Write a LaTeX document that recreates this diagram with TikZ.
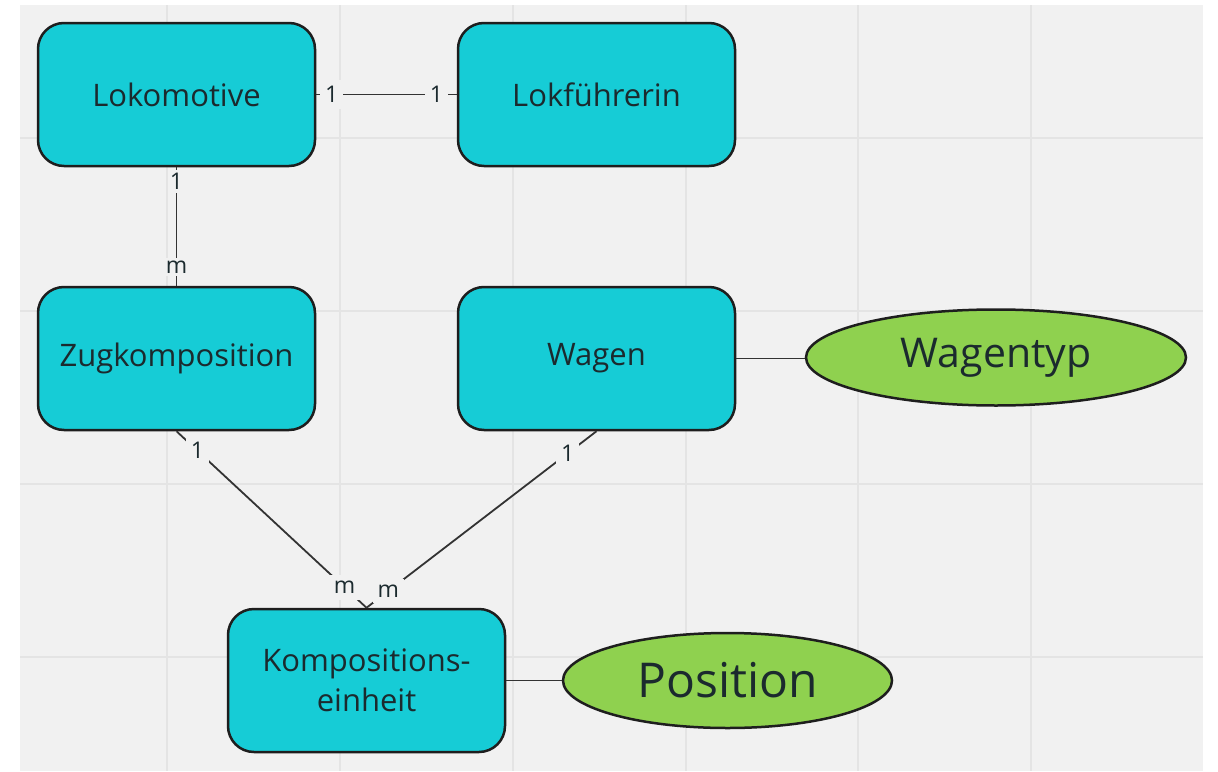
\documentclass[tikz,border=0pt]{standalone}
\usepackage{fontspec}
\setmainfont{Open Sans}
\usetikzlibrary{shapes.geometric}
\definecolor{canvas}{HTML}{F1F1F1}
\definecolor{gridline}{HTML}{E4E4E4}
\definecolor{entity}{HTML}{16CCD6}
\definecolor{attr}{HTML}{8FD14F}
\definecolor{outline}{HTML}{1E1E1E}
\definecolor{ink}{HTML}{1B2A2E}
\definecolor{wire}{HTML}{333333}
\tikzset{
  entitybox/.style={draw=outline, line width=2.5pt, fill=entity, rounded corners=26pt,
    minimum width=277pt, minimum height=143pt, inner sep=0pt, text=ink,
    font=\fontsize{31}{40}\selectfont, align=center},
  attrbox/.style={ellipse, draw=outline, line width=2.5pt, fill=attr, inner sep=0pt, text=ink},
  rel/.style={draw=wire, line width=1.8pt},
  card/.style={fill=canvas, inner xsep=5pt, inner ysep=6pt, text=ink,
    font=\fontsize{23}{23}\selectfont},
  slimcard/.style={card, inner xsep=1.5pt, inner ysep=3pt},
}
\begin{document}
\begin{tikzpicture}[x=1pt, y=-1pt]
  % page and canvas
  \fill[white] (0,0) rectangle (1218,771);
  \useasboundingbox (0,0) rectangle (1218,771);
  \fill[canvas] (20,5) rectangle (1203,771);
  % grid
  \foreach \gx in {167,340,513,686,858,1031}
    \draw[gridline, line width=2pt] (\gx,5) -- (\gx,771);
  \foreach \gy in {138,311,484,657}
    \draw[gridline, line width=2pt] (20,\gy) -- (1203,\gy);

  % entities
  \node[entitybox] (lok)  at (176.5, 94.5)  {Lokomotive};
  \node[entitybox] (fuehr) at (596.5, 94.5) {Lokführerin};
  \node[entitybox] (zug)  at (176.5, 358.5) {Zugkomposition};
  \node[entitybox] (wag)  at (596.5, 358.5) {Wagen};
  \node[entitybox] (einh) at (366.5, 680.5) {Kompositions-\\einheit};

  % attributes
  \node[attrbox, minimum width=380pt, minimum height=96pt,
        font=\fontsize{41}{41}\selectfont] (typ) at (996, 357.5) {Wagentyp};
  \node[attrbox, minimum width=329pt, minimum height=95pt,
        font=\fontsize{48}{48}\selectfont] (pos) at (727.5, 680.5) {Position};

  % relationships with cardinalities
  \draw[rel] (lok.east) -- node[card, pos=0.11] {1} node[card, pos=0.855] {1} (fuehr.west);
  \draw[rel] (lok.south) -- node[slimcard, pos=0.12] {1} node[slimcard, pos=0.84] {m} (zug.north);
  \draw[rel] (zug.south) -- node[card, pos=0.11] {1} node[card, pos=0.885] {m} (einh.north);
  \draw[rel] (wag.south) -- node[card, pos=0.125] {1} node[card, pos=0.905] {m} (einh.north);

  % attribute links
  \draw[rel] (wag.east) -- (wag.east -| typ.west);
  \draw[rel] (einh.east) -- (einh.east -| pos.west);
\end{tikzpicture}
\end{document}
